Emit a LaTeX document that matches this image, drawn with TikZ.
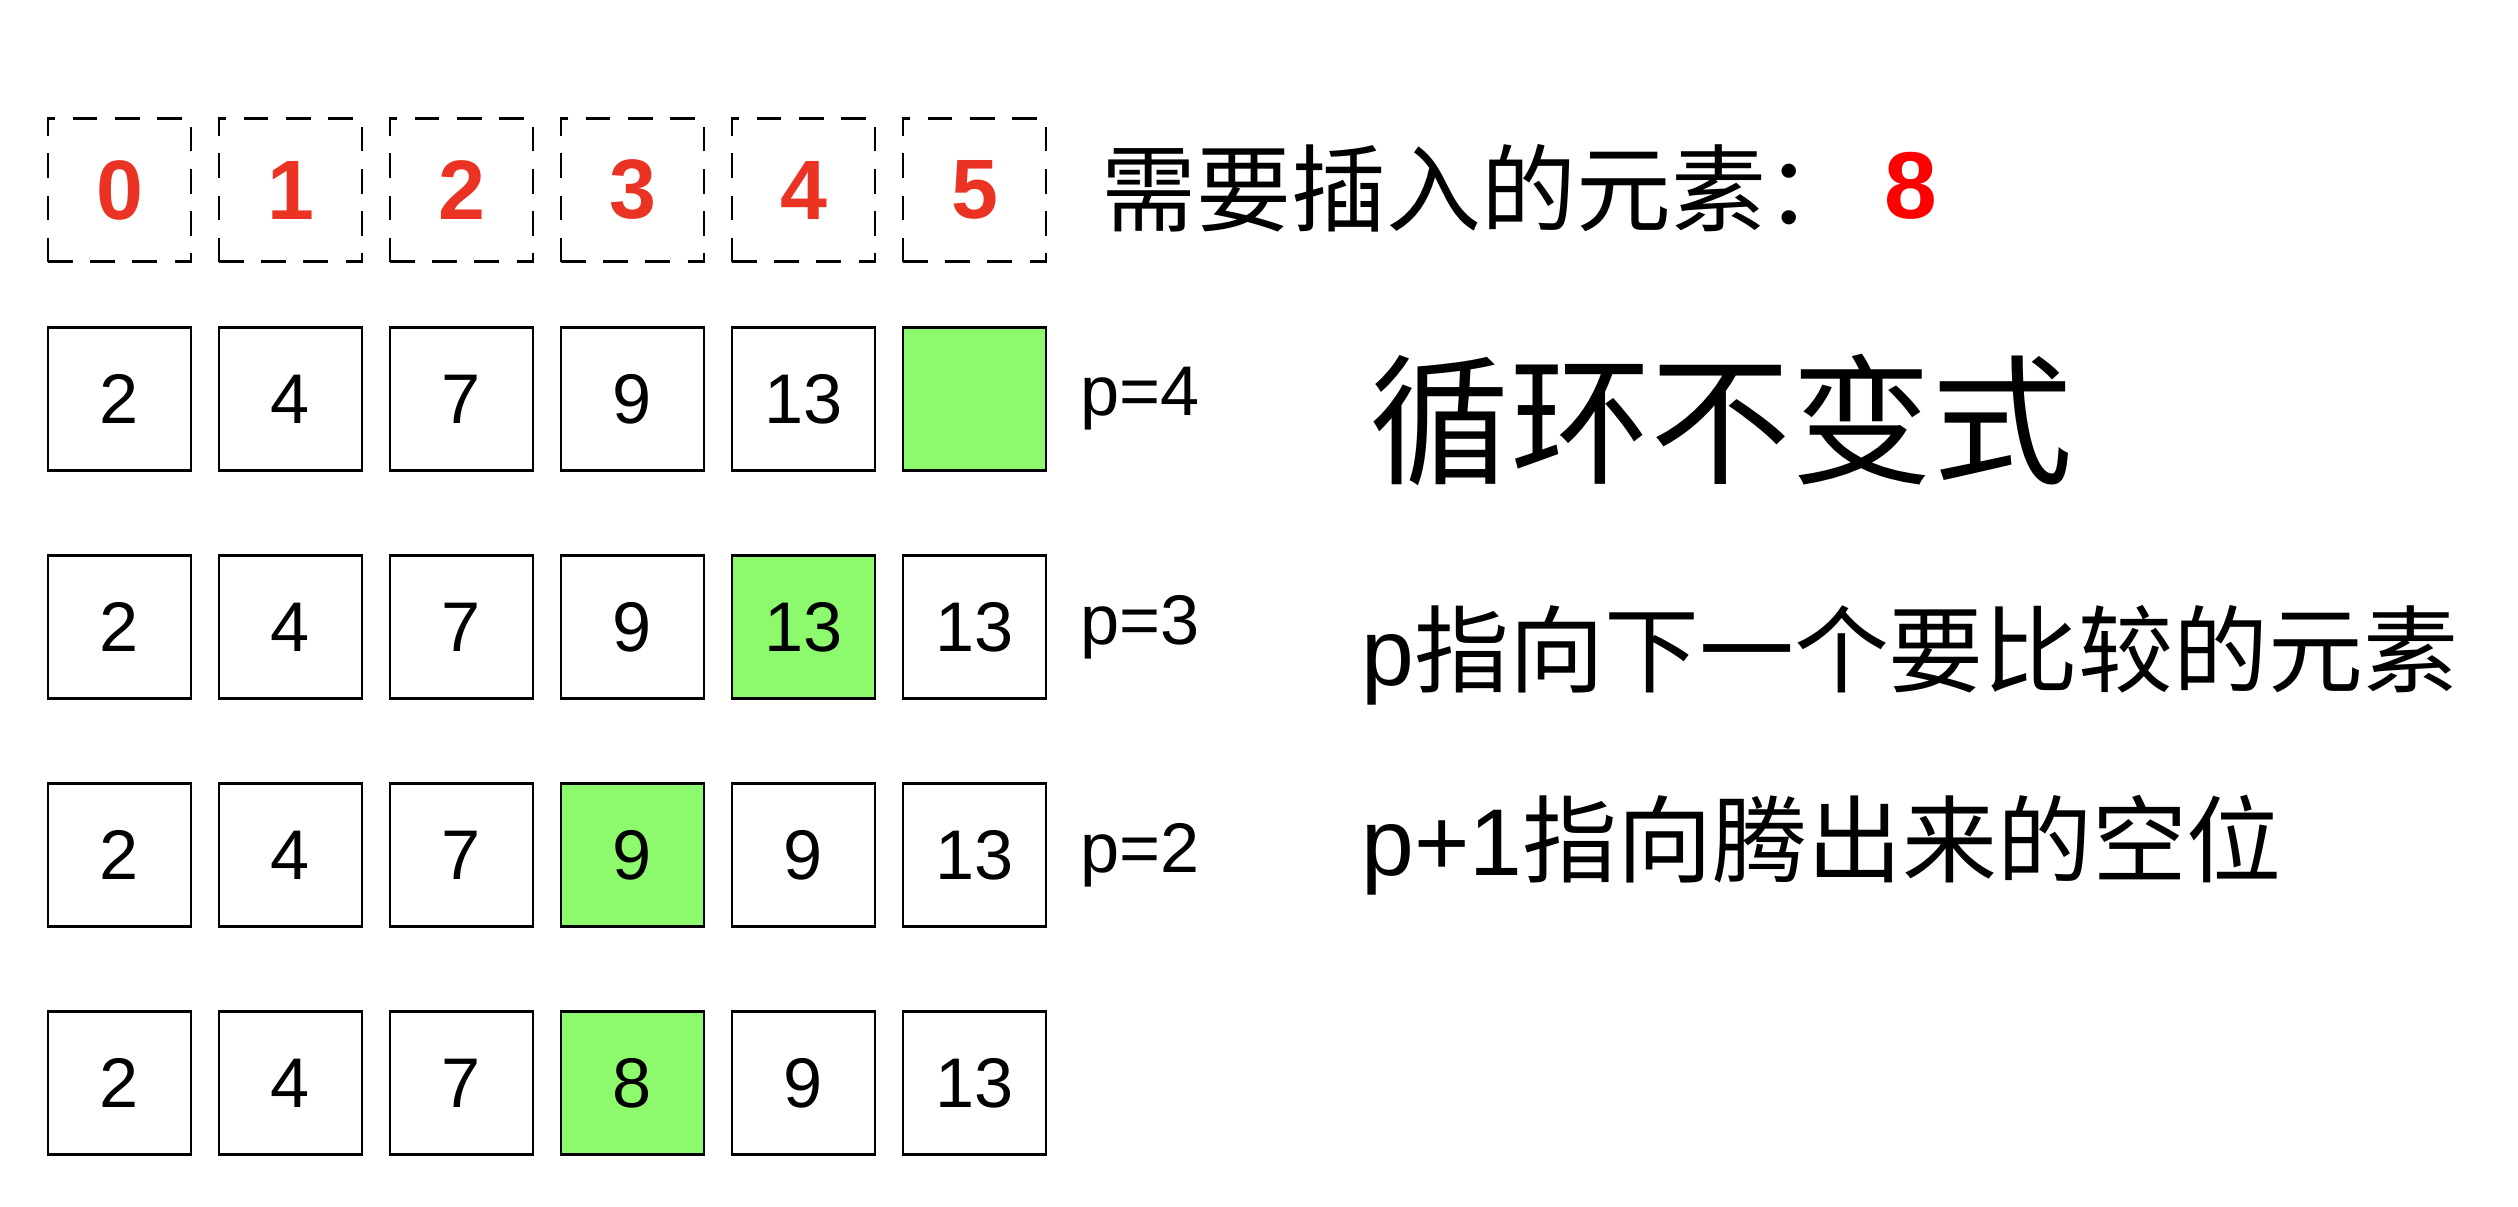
\documentclass[tikz,border=0pt]{standalone}
\usepackage{fontspec}
\setmainfont{Liberation Sans}
\newfontfamily\cjk{Noto Sans CJK SC}
\usepackage{xcolor}
\usepackage{tikz}
\usetikzlibrary{positioning}

\definecolor{idxred}{RGB}{235,51,36}
\definecolor{cellgreen}{RGB}{140,250,108}

\tikzset{
    cell/.style={draw, line width=0.8pt, minimum width=1.43cm,
        minimum height=1.43cm, inner sep=0pt,
        font=\fontsize{20}{24}\selectfont},
    idxcell/.style={cell, dash pattern=on 7pt off 5pt, text=idxred,
        font=\fontsize{24}{28}\selectfont\bfseries},
    hot/.style={fill=cellgreen},
    nofill/.style={},
    plabel/.style={inner sep=0pt, font=\fontsize{20}{24}\selectfont},
    note/.style={anchor=base west, inner sep=0pt,
        font=\fontsize{27}{32}\selectfont}
}

\begin{document}
\begin{tikzpicture}

\useasboundingbox (0,0) rectangle (25.18,-12.06);

%-------------------------
% Index row
%-------------------------
\foreach \v [count=\i from 0] in {0,1,2,3,4,5}
    \node[idxcell] (idx\i) at (1.195+1.71*\i,-1.90) {\v};

% Element to insert
\node[note] (ask) at (11.01,-2.24) {\cjk 需要插入的元素：};
\node[note, text=red, font=\fontsize{27}{32}\selectfont\bfseries]
    (ins) at (18.84,-2.18) {8};


%-------------------------
% Array states
%-------------------------
\foreach \v/\s [count=\i from 0] in {2/nofill,4/nofill,7/nofill,9/nofill,13/nofill,{}/hot}
    \node[cell,\s] (a\i) at (1.195+1.71*\i,-3.99) {\v};
\foreach \v/\s [count=\i from 0] in {2/nofill,4/nofill,7/nofill,9/nofill,13/hot,13/nofill}
    \node[cell,\s] (b\i) at (1.195+1.71*\i,-6.27) {\v};
\foreach \v/\s [count=\i from 0] in {2/nofill,4/nofill,7/nofill,9/hot,9/nofill,13/nofill}
    \node[cell,\s] (c\i) at (1.195+1.71*\i,-8.55) {\v};
\foreach \v/\s [count=\i from 0] in {2/nofill,4/nofill,7/nofill,8/hot,9/nofill,13/nofill}
    \node[cell,\s] (d\i) at (1.195+1.71*\i,-10.83) {\v};

% Pointer values
\node[plabel, right=0.32cm of a5] (pa) {p=4};
\node[plabel, right=0.32cm of b5] (pb) {p=3};
\node[plabel, right=0.32cm of c5] (pc) {p=2};


%-------------------------
% Notes
%-------------------------
\node[note, font=\fontsize{40}{48}\selectfont] (title) at (13.69,-4.73)
    {\cjk 循环不变式};
\node[note] (notep) at (13.61,-6.85) {p{\cjk 指向下一个要比较的元素}};
\node[note] (notepp) at (13.61,-8.75) {p+1{\cjk 指向腾出来的空位}};

\end{tikzpicture}
\end{document}
